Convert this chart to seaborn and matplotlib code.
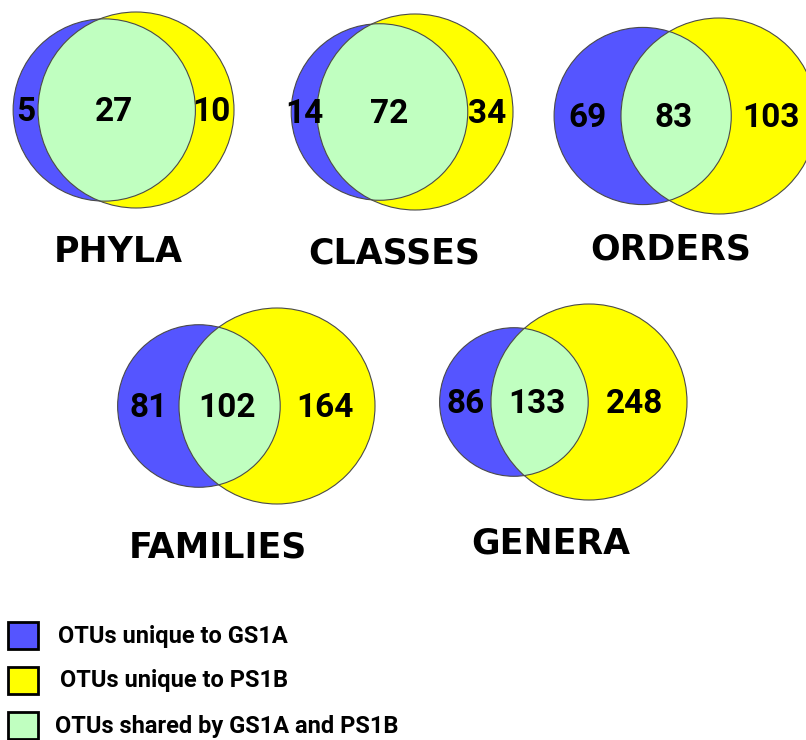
import numpy as np
import seaborn as sns
import matplotlib.pyplot as plt
from matplotlib.patches import Circle, Rectangle

levels = ["PHYLA", "CLASSES", "ORDERS", "FAMILIES", "GENERA"]
only_gs1a = [5, 14, 69, 81, 86]
shared = [27, 72, 83, 102, 133]
only_ps1b = [10, 34, 103, 164, 248]

legend_labels = ["OTUs unique to GS1A", "OTUs unique to PS1B", "OTUs shared by GS1A and PS1B"]

sns.set_style("white")
blue, yellow, green = "#5555ff", "#ffff00", "#c0ffc0"
edge = "#4a4a4a"

num_font = ["Roboto", "DejaVu Sans"]
title_font = ["DejaVu Sans"]

# where each diagram sits (centre of the PS1B circle) and where its title goes
anchors = [(136, 110), (415, 112), (719, 116), (277, 406), (589, 402)]
title_pos = [(118, 252), (394, 253), (671, 249), (218, 547), (551, 543)]
R_BIG = 98


def lens_area(r1, r2, d):
    if d >= r1 + r2:
        return 0.0
    if d <= abs(r1 - r2):
        return np.pi * min(r1, r2) ** 2
    a1 = np.arccos((d * d + r1 * r1 - r2 * r2) / (2 * d * r1))
    a2 = np.arccos((d * d + r2 * r2 - r1 * r1) / (2 * d * r2))
    k = np.sqrt((-d + r1 + r2) * (d + r1 - r2) * (d - r1 + r2) * (d + r1 + r2))
    return r1 * r1 * a1 + r2 * r2 * a2 - 0.5 * k


def solve_distance(r1, r2, target):
    lo, hi = abs(r1 - r2) + 1e-6, r1 + r2
    for _ in range(80):
        mid = (lo + hi) / 2
        if lens_area(r1, r2, mid) > target:
            lo = mid
        else:
            hi = mid
    return (lo + hi) / 2


fig = plt.figure(figsize=(8.06, 7.40), dpi=100)
ax = fig.add_axes([0, 0, 1, 1])
ax.set_xlim(0, 806)
ax.set_ylim(740, 0)
ax.set_aspect("equal")
ax.axis("off")

for i, lev in enumerate(levels):
    tot_a = only_gs1a[i] + shared[i]
    tot_b = only_ps1b[i] + shared[i]
    ry = R_BIG
    rb = R_BIG * np.sqrt(tot_a / tot_b)
    target = np.pi * ry ** 2 * shared[i] / tot_b
    d = solve_distance(rb, ry, target)
    cyx, cyy = anchors[i]
    cbx = cyx - d

    ax.add_patch(Circle((cbx, cyy), rb, fc=blue, ec="none"))
    yc = Circle((cyx, cyy), ry, fc=yellow, ec="none")
    ax.add_patch(yc)
    gc = Circle((cbx, cyy), rb, fc=green, ec="none")
    ax.add_patch(gc)
    gc.set_clip_path(yc)
    ax.add_patch(Circle((cbx, cyy), rb, fc="none", ec=edge, lw=0.8))
    ax.add_patch(Circle((cyx, cyy), ry, fc="none", ec=edge, lw=0.8))

    xa = (cbx - rb + cyx - ry) / 2
    xab = (cyx - ry + cbx + rb) / 2 - 3
    xb = (cbx + rb + cyx + ry) / 2 - 3
    for x, v in zip([xa, xab, xb], [only_gs1a[i], shared[i], only_ps1b[i]]):
        ax.text(x, cyy + 2, str(v), ha="center", va="center", fontsize=24,
                fontweight="bold", family=num_font, color="black")

    tx, ty = title_pos[i]
    ax.text(tx, ty, lev, ha="center", va="center", fontsize=25,
            fontweight="bold", family=title_font, color="black")

# legend
box_y = [622, 667, 712]
text_x = [58, 60, 55]
for col, lab, by, tx in zip([blue, yellow, green], legend_labels, box_y, text_x):
    ax.add_patch(Rectangle((8, by), 30, 27, fc=col, ec="black", lw=2))
    ax.text(tx, by + 14, lab, ha="left", va="center", fontsize=17,
            fontweight="bold", family=num_font, color="black")

plt.savefig("out.png", dpi=100)
